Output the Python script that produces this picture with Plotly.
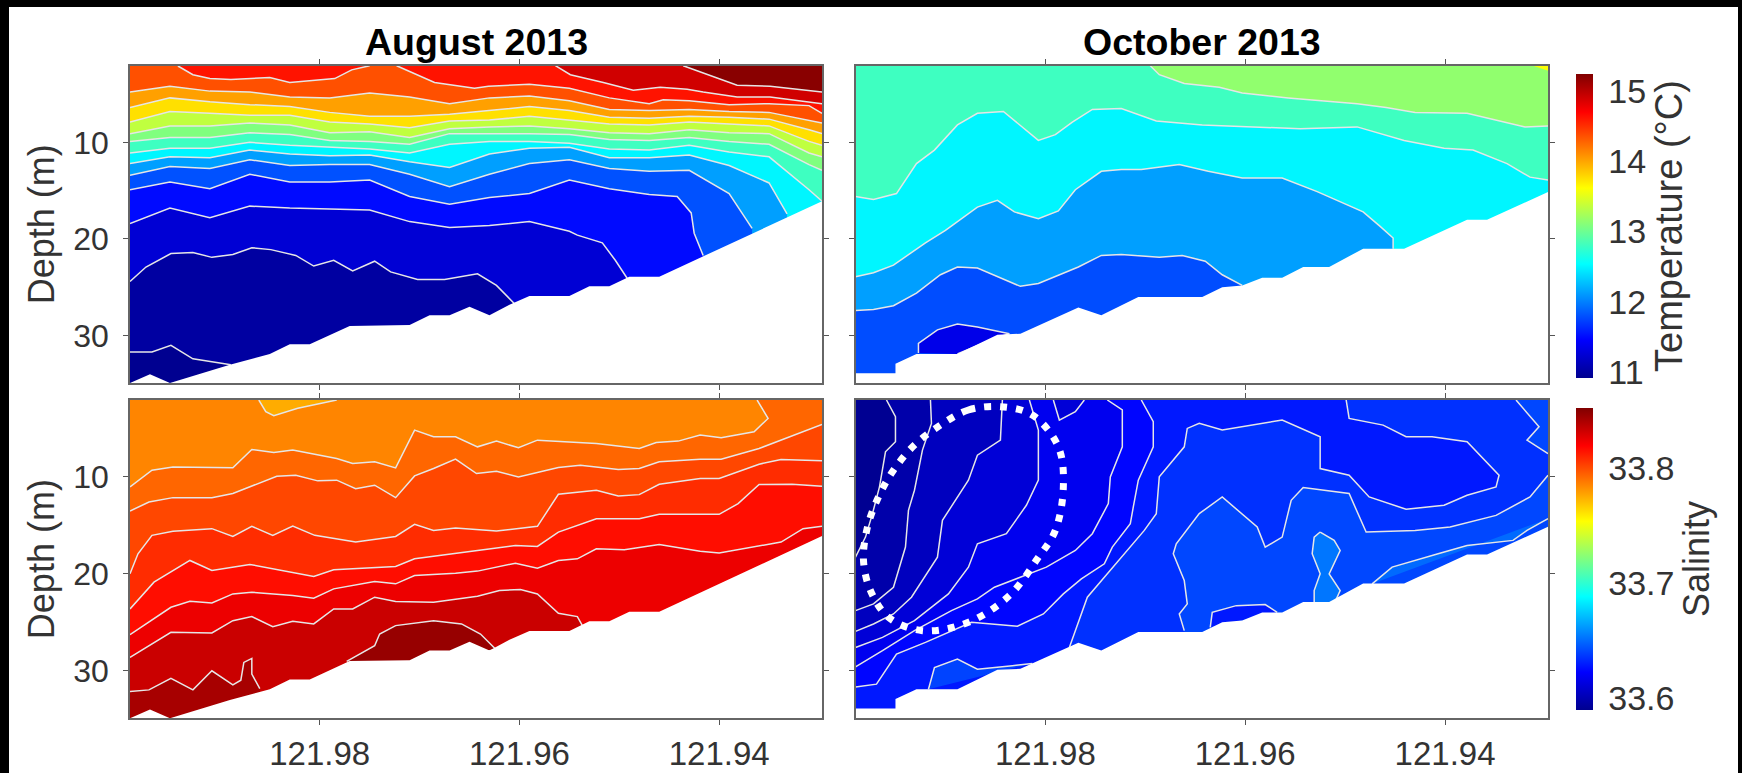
import plotly.graph_objects as go

# ---------- axes ----------
LEFT, RIGHT, TOP, BOTTOM, DEEP = 121.999, 121.9297, 2.07, 34.9, 37.0
LON_TICKS = [121.98, 121.96, 121.94]
LON_LABELS = ["121.98", "121.96", "121.94"]
DEPTH_TICKS = [10, 20, 30]
TEMP_RANGE = (10.915, 15.24)
SAL_RANGE = (33.59, 33.852)
TEMP_TICKS = [11, 12, 13, 14, 15]
SAL_TICKS = [33.6, 33.7, 33.8]
JET = [[0, "#00008F"], [0.125, "#0000FF"], [0.375, "#00FFFF"], [0.625, "#FFFF00"], [0.875, "#FF0000"], [1, "#800000"]]

# ---------- August temperature: isotherm depth (m) read at each longitude ----------
AUG_COLS = [121.999, 121.995, 121.991, 121.987, 121.983, 121.979, 121.975, 121.971, 121.967, 121.963,
            121.959, 121.955, 121.951, 121.947, 121.943, 121.939, 121.935, 121.931, 121.9297]
AT_L11 = [4.8, 4.2, 4.7, 4.8, 5.3, 5.4, 4.9, 5.3, 6.0, 5.4, 5.2, 5.7, 6.6, 6.7, 6.6, 6.8, 6.9, 7.7, 8.0]
AT_L10 = [6.4, 5.4, 5.8, 6.1, 6.3, 6.9, 7.3, 7.3, 7.1, 6.7, 6.3, 6.7, 7.4, 7.5, 7.3, 7.4, 7.6, 8.7, 9.1]
AT_L9 = [7.9, 6.8, 7.0, 7.2, 7.2, 7.9, 8.1, 8.5, 7.8, 7.7, 7.3, 7.7, 8.1, 8.2, 7.9, 8.1, 8.3, 9.9, 10.3]
AT_L8 = [9.1, 8.3, 8.3, 8.0, 8.2, 9.0, 8.9, 9.5, 8.6, 8.4, 8.3, 8.6, 9.0, 9.1, 8.7, 9.0, 9.1, 11.1, 11.5]
AT_L7 = [9.9, 9.5, 9.5, 9.0, 9.2, 9.8, 9.9, 10.2, 9.1, 9.1, 9.1, 9.2, 9.7, 9.8, 9.5, 9.9, 10.2, 12.3, 12.9]
AT_L6 = [11.1, 10.6, 10.6, 10.0, 10.3, 10.5, 10.7, 11.1, 10.2, 9.9, 9.9, 10.1, 10.7, 10.8, 10.3, 11.0, 11.5, 14.9, 16.1]
AT_L5 = [12.2, 11.5, 11.6, 10.8, 11.2, 11.4, 11.3, 12.0, 12.6, 11.2, 10.6, 10.5, 11.6, 11.6, 11.3, 12.4, 14.2]
AT_L5_END = [(121.9332, 17.4)]
AT_L4 = [13.4, 12.5, 12.7, 11.8, 12.4, 12.3, 12.3, 13.3, 14.6, 13.3, 12.2, 11.8, 12.7, 13.0, 12.9, 15.3]
AT_L4_END = [(121.9367, 18.9)]
AT_L3 = [14.9, 14.1, 14.8, 13.3, 14.1, 14.1, 13.9, 15.6, 16.4, 15.7, 15.3, 13.9, 14.8, 15.4]
AT_L3_END = [(121.9442, 15.6), (121.9428, 17.3), (121.9425, 19.4), (121.9416, 21.7)]
AT_L2 = [18.4, 16.8, 17.8, 16.6, 16.8, 16.9, 17.0, 18.2, 18.8, 18.6, 18.2]
AT_L2_END = [(121.955, 19.2), (121.9542, 19.6), (121.9517, 20.4), (121.9504, 22.2), (121.949, 24.4)]
AT_L1 = [(121.999, 24.4), (121.9974, 22.9), (121.9949, 21.5), (121.9927, 21.4), (121.9908, 21.9), (121.9887, 21.6),
         (121.9868, 20.9), (121.9849, 21.1), (121.9824, 21.7), (121.9806, 22.8), (121.9786, 22.2), (121.9767, 23.3),
         (121.9745, 22.3), (121.9729, 23.4), (121.9702, 24.2), (121.9675, 24.2), (121.9642, 23.6), (121.9623, 24.8),
         (121.9604, 26.8)]
AT_L0 = [(121.999, 31.7), (121.9968, 31.7), (121.9949, 31.0), (121.9927, 32.4), (121.9908, 32.7), (121.9889, 33.0)]
AT_L12A = [(121.9942, 2.1), (121.9927, 3.0), (121.991, 3.4), (121.9889, 3.5), (121.985, 3.3), (121.983, 3.8),
           (121.9785, 3.4), (121.9768, 2.5), (121.975, 2.07)]
AT_L12B = [(121.9723, 2.07), (121.9685, 3.8), (121.9645, 4.4), (121.9631, 4.2), (121.959, 4.0), (121.955, 4.4),
           (121.951, 5.4), (121.947, 6.0), (121.9456, 5.6), (121.943, 5.7), (121.939, 6.1), (121.935, 6.0),
           (121.931, 6.2), (121.9297, 7.0)]
AT_L13 = [(121.9564, 2.07), (121.9549, 3.0), (121.9516, 3.8), (121.9486, 4.6), (121.9459, 4.3), (121.9432, 4.5),
          (121.9416, 4.8), (121.9382, 5.3), (121.9349, 5.3), (121.9297, 6.0)]
AT_L14 = [(121.9436, 2.07), (121.9419, 2.7), (121.9409, 3.1), (121.9382, 4.1), (121.9349, 4.2), (121.9297, 4.8)]
AUG_T_BASE = 10.92
AUG_T_BANDS = [11.0, 11.25, 11.5, 11.8, 12.13, 12.5, 12.8, 13.08, 13.35, 13.75, 14.02, 14.36, 14.62, 14.9, 15.2]

# ---------- August seabed ----------
AUG_BED = [(121.999, 34.9), (121.997, 34.0), (121.995, 34.9), (121.989, 33.0), (121.985, 31.9), (121.983, 30.9),
           (121.981, 30.9), (121.977, 29.0), (121.971, 28.9), (121.969, 27.9), (121.967, 27.9), (121.965, 27.0),
           (121.963, 27.9), (121.961, 26.8), (121.959, 25.9), (121.955, 25.9), (121.953, 24.9), (121.951, 24.9),
           (121.949, 23.9), (121.946, 23.9), (121.9297, 16.1)]

# ---------- October temperature ----------
OT_1 = [(121.9695, 2.07), (121.9686, 3.0), (121.9661, 3.9), (121.9626, 4.3), (121.9603, 4.9), (121.9557, 5.4),
        (121.9488, 6.0), (121.9459, 6.4), (121.943, 6.9), (121.9378, 7.0), (121.932, 8.4), (121.9297, 8.3)]
OT_2 = [(121.999, 15.6), (121.9972, 15.9), (121.9949, 15.3), (121.9929, 12.2), (121.9911, 10.8), (121.9888, 8.2),
        (121.9868, 7.0), (121.9842, 6.8), (121.9807, 9.8), (121.979, 9.2), (121.9773, 7.9), (121.9753, 6.6),
        (121.9724, 6.5), (121.9689, 7.8), (121.9643, 8.2), (121.9545, 8.6), (121.9488, 8.4), (121.9441, 9.8),
        (121.9401, 10.6), (121.9372, 10.8), (121.9338, 12.2), (121.9315, 13.6), (121.9297, 13.9)]
OT_3 = [(121.999, 23.9), (121.9972, 23.5), (121.9952, 22.7), (121.992, 20.4), (121.99, 19.1), (121.9868, 16.7),
        (121.9848, 16.0), (121.9831, 17.2), (121.9807, 17.9), (121.9787, 17.1), (121.977, 14.9), (121.9744, 13.0),
        (121.9724, 12.8), (121.9704, 12.8), (121.9666, 12.3), (121.9637, 13.0), (121.9603, 13.7), (121.9563, 13.7),
        (121.9528, 15.1), (121.9482, 17.2), (121.9465, 18.7), (121.9452, 19.9), (121.9452, 21.0)]
OT_4 = [(121.999, 27.4), (121.9972, 27.3), (121.9952, 26.9), (121.9929, 25.6), (121.9905, 23.7), (121.9888, 22.9),
        (121.9868, 23.0), (121.9825, 24.9), (121.9807, 24.6), (121.9767, 22.9), (121.9744, 21.7), (121.9724, 21.6),
        (121.9686, 21.9), (121.9663, 21.7), (121.964, 22.3), (121.9623, 23.7), (121.9603, 24.8)]
OT_5 = [(121.9927, 31.8), (121.9927, 30.8), (121.9908, 29.4), (121.9888, 28.8), (121.9868, 29.1), (121.9836, 29.8),
        (121.9851, 30.3), (121.9888, 31.9)]
OT_6 = [(121.9312, 2.07), (121.9297, 2.6), (121.9297, 2.07)]
OCT_T_BASE = 11.78
OCT_T_BANDS = [12.13, 12.5, 12.8, 13.15]
OCT_T_COLD = 11.35
OCT_T_CORNER = 13.6

# ---------- October seabed ----------
OCT_BED = [(121.999, 33.9), (121.995, 33.9), (121.995, 32.9), (121.9929, 31.9), (121.9888, 31.9), (121.9848, 29.9),
           (121.9825, 29.8), (121.9767, 27.1), (121.9744, 27.9), (121.9707, 26.0), (121.9643, 26.0), (121.9623, 25.0),
           (121.9603, 24.8), (121.9583, 24.0), (121.9563, 24.0), (121.9542, 22.9), (121.9516, 22.9), (121.9482, 21.0),
           (121.9441, 21.0), (121.9378, 18.0), (121.9358, 18.0), (121.9296, 15.1)]

# ---------- August salinity ----------
AS_A = [(121.9861, 2.07), (121.9854, 3.28), (121.9846, 3.69), (121.9822, 2.93), (121.9783, 2.07)]
AS_B = [(121.999, 11.03), (121.9968, 9.31), (121.9947, 8.97), (121.9919, 9.03), (121.9887, 9.07), (121.9868, 7.17),
        (121.9846, 7.48), (121.9827, 7.24), (121.9783, 8.1), (121.9767, 8.62), (121.9745, 8.45), (121.9724, 9.07),
        (121.9705, 5.17), (121.9686, 5.86), (121.9664, 5.86), (121.9642, 6.9), (121.9623, 6.31), (121.9601, 7.0),
        (121.9582, 6.21), (121.9523, 6.55), (121.948, 7.07), (121.9463, 6.45), (121.9441, 6.31), (121.9419, 5.69),
        (121.9398, 5.97), (121.9365, 5.34), (121.9351, 3.97), (121.9362, 2.07)]
AS_C = [(121.999, 13.52), (121.9971, 12.59), (121.9947, 12.14), (121.9908, 12.14), (121.9887, 11.72), (121.9843, 9.93),
        (121.9824, 9.83), (121.9802, 10.41), (121.9783, 10.34), (121.9764, 11.21), (121.9745, 10.86), (121.9724, 12.14),
        (121.9705, 9.9), (121.9686, 9.14), (121.9664, 8.17), (121.9643, 9.66), (121.9623, 9.41), (121.9601, 10.0),
        (121.9561, 9.03), (121.9539, 8.79), (121.9501, 9.24), (121.948, 9.14), (121.946, 8.45), (121.9419, 8.17),
        (121.9398, 8.17), (121.936, 7.07), (121.9297, 4.59)]
AS_D = [(121.999, 20.0), (121.9982, 17.93), (121.9968, 16.03), (121.9947, 15.62), (121.9908, 15.34), (121.9887, 16.14),
        (121.9868, 15.1), (121.9847, 16.03), (121.9827, 15.07), (121.9805, 16.03), (121.9764, 16.72), (121.9724, 16.14),
        (121.9705, 14.9), (121.9686, 15.52), (121.9664, 15.28), (121.9623, 15.59), (121.9582, 15.1), (121.9561, 11.79),
        (121.9523, 11.38), (121.9501, 11.97), (121.948, 11.83), (121.946, 10.76), (121.9419, 10.17), (121.94, 10.17),
        (121.936, 8.69), (121.9338, 8.21), (121.9297, 8.34)]
AS_E = [(121.999, 23.62), (121.9966, 20.86), (121.993, 18.62), (121.9908, 19.66), (121.987, 19.03), (121.9827, 19.83),
        (121.9806, 20.28), (121.9786, 19.59), (121.9745, 19.31), (121.9724, 19.24), (121.9705, 18.45), (121.9664, 17.93),
        (121.9642, 17.59), (121.9604, 17.07), (121.9582, 17.17), (121.9561, 15.69), (121.9523, 14.31), (121.948, 14.31),
        (121.946, 13.86), (121.94, 13.86), (121.9381, 12.76), (121.936, 10.79), (121.9327, 10.76), (121.9297, 10.97)]
AS_F = [(121.999, 26.28), (121.9949, 23.45), (121.993, 22.83), (121.9908, 23.0), (121.9887, 22.07), (121.9868, 21.9),
        (121.9827, 22.24), (121.9806, 22.52), (121.9786, 21.55), (121.9745, 20.79), (121.9724, 21.03), (121.9705, 20.17),
        (121.9664, 19.93), (121.9642, 19.72), (121.9604, 18.9), (121.9582, 19.41), (121.9561, 18.62), (121.9542, 18.45),
        (121.9523, 17.41), (121.9495, 17.52), (121.946, 16.97), (121.9419, 17.66), (121.94, 17.86), (121.9338, 16.72),
        (121.9316, 15.34), (121.9297, 15.1)]
AS_G = [(121.999, 28.62), (121.9949, 26.03), (121.9908, 26.1), (121.9887, 24.83), (121.9868, 24.41), (121.9847, 25.45),
        (121.9827, 24.9), (121.9806, 25.17), (121.9786, 23.62), (121.9767, 23.62), (121.9745, 22.41), (121.9724, 22.86),
        (121.9686, 22.93), (121.9642, 22.31), (121.962, 21.72), (121.9599, 21.62), (121.9582, 22.07), (121.9561, 24.07),
        (121.9542, 24.41), (121.9535, 25.69)]
AS_H = [(121.999, 32.14), (121.9971, 31.97), (121.9949, 30.79), (121.9927, 31.97), (121.9908, 30.0), (121.9887, 31.45),
        (121.9879, 30.97), (121.9876, 29.14), (121.9868, 28.72), (121.9868, 30.34), (121.986, 31.83)]
AS_I = [(121.9773, 29.03), (121.9745, 27.41), (121.974, 26.21), (121.9724, 25.34), (121.9686, 24.83), (121.9658, 25.17),
        (121.9639, 26.21), (121.9623, 27.86), (121.9664, 28.28), (121.9702, 28.97)]
AUG_S_BASE = 33.842
AUG_S_BANDS = {"A": 33.775, "B": 33.785, "C": 33.793, "D": 33.801, "E": 33.808, "F": 33.816, "G": 33.824, "H": 33.833, "I": 33.846}

# ---------- October salinity ----------
OS_1 = [(121.9959, 2.07), (121.995, 3.79), (121.995, 6.38), (121.996, 7.41), (121.9966, 11.03), (121.9973, 13.79),
        (121.998, 16.21), (121.999, 18.28)]
OS_2 = [(121.9915, 2.07), (121.9914, 4.48), (121.9923, 7.24), (121.9931, 11.38), (121.9937, 13.45), (121.994, 17.24),
        (121.9952, 21.38), (121.9972, 23.1), (121.999, 23.79)]
OS_3 = [(121.9843, 2.07), (121.9845, 6.21), (121.9868, 7.76), (121.9877, 10.34), (121.9903, 14.48), (121.9905, 16.21),
        (121.9908, 18.28), (121.9934, 22.41), (121.9952, 24.14), (121.9972, 25.17), (121.999, 25.93)]
OS_4 = [(121.9816, 2.07), (121.9807, 5.17), (121.9807, 10.34), (121.9819, 12.93), (121.9839, 15.86), (121.9868, 16.9),
        (121.9877, 19.31), (121.9897, 22.07), (121.9931, 24.83), (121.9963, 26.55), (121.999, 27.59)]
OS_5 = [(121.9738, 2.07), (121.9723, 3.1), (121.9723, 6.9), (121.9735, 10.0), (121.9737, 12.76), (121.9753, 15.86),
        (121.977, 17.59), (121.9799, 19.31), (121.9851, 21.38), (121.9868, 22.59), (121.9894, 23.79), (121.9931, 25.86),
        (121.9963, 27.93), (121.999, 29.59)]
OS_5B = [(121.9792, 2.07), (121.9786, 4.14), (121.977, 3.28), (121.9761, 2.07)]
OS_6 = [(121.9704, 2.07), (121.9692, 4.31), (121.9692, 6.9), (121.9707, 10.34), (121.9712, 13.1), (121.9715, 14.83),
        (121.9733, 17.24), (121.9741, 18.97), (121.9764, 20.52), (121.9782, 22.07), (121.9802, 24.14), (121.9828, 25.41),
        (121.9874, 25.0), (121.992, 27.07), (121.9949, 28.28), (121.9969, 31.38), (121.999, 31.66)]
OS_7 = [(121.9499, 2.07), (121.9496, 3.97), (121.9462, 4.66), (121.9439, 5.86), (121.9413, 5.86), (121.9378, 6.38),
        (121.9346, 9.83), (121.9349, 11.03), (121.9378, 11.9), (121.9401, 12.93), (121.9439, 13.34), (121.9476, 12.07),
        (121.9496, 9.83), (121.9525, 9.14), (121.9525, 5.86), (121.9563, 4.14), (121.9623, 5.17), (121.9646, 4.48),
        (121.9658, 5.0), (121.9661, 6.9), (121.9686, 10.0), (121.9689, 13.79), (121.9701, 15.52), (121.9744, 20.69),
        (121.9758, 22.41), (121.977, 25.86), (121.9776, 27.59)]
OS_8 = [(121.9661, 25.86), (121.9666, 24.14), (121.9658, 23.1), (121.9661, 20.69), (121.9672, 17.93), (121.9669, 16.9),
        (121.9646, 13.79), (121.9623, 12.07), (121.9588, 15.17), (121.958, 17.24), (121.9563, 16.21), (121.9554, 12.41),
        (121.9542, 11.1), (121.9496, 11.72), (121.9479, 15.69), (121.943, 15.52), (121.9395, 15.17), (121.9349, 13.97),
        (121.9315, 12.07), (121.9297, 9.83)]
OS_8B = [(121.9329, 2.07), (121.9306, 4.83), (121.9318, 6.21), (121.9297, 7.59)]
OS_9 = [(121.9525, 15.69), (121.9511, 16.55), (121.9505, 17.59), (121.9516, 20.0), (121.9505, 21.72), (121.9511, 23.1),
        (121.9531, 23.1), (121.9531, 21.72), (121.9525, 20.0), (121.9533, 17.93), (121.9531, 16.21), (121.9525, 15.69)]
OS_10 = [(121.9473, 21.03), (121.9453, 19.31), (121.9407, 17.93), (121.9378, 17.07), (121.9332, 16.55), (121.9318, 15.52),
         (121.9297, 14.31)]
OS_11 = [(121.9635, 25.52), (121.9633, 23.97), (121.9609, 23.28), (121.958, 23.17), (121.9568, 23.97)]
OS_12 = [(121.9917, 31.9), (121.9911, 29.66), (121.9888, 28.79), (121.9868, 29.83), (121.9833, 29.48), (121.9813, 29.24)]
OCT_S_BASE = 33.641
OCT_S_BANDS = {"1": 33.591, "2": 33.598, "3": 33.604, "4": 33.611, "5": 33.618, "6": 33.624, "7": 33.629, "8": 33.635,
               "9": 33.653, "10": 33.650, "12": 33.640}
# dotted ring marked on the October salinity panel
RING = [(121.9845, 2.76), (121.9877, 3.1), (121.9905, 4.66), (121.9931, 6.72), (121.9952, 9.31), (121.9967, 12.07),
        (121.9978, 15.17), (121.9982, 18.62), (121.9975, 21.72), (121.9957, 24.48), (121.9923, 25.86), (121.9877, 25.0),
        (121.9836, 22.24), (121.9808, 18.45), (121.979, 15.52), (121.9782, 11.03), (121.9787, 6.9), (121.9813, 3.62),
        (121.9845, 2.76)]

LINE_COLOR = "#e6e6e6"
FONT = "Liberation Sans"
W, H = 1742, 773


def jet(value, rng):
    t = min(1.0, max(0.0, (value - rng[0]) / (rng[1] - rng[0])))
    for (a, ca), (b, cb) in zip(JET, JET[1:]):
        if t <= b:
            f = (t - a) / (b - a)
            rgb = [int(ca[i:i + 2], 16) + f * (int(cb[i:i + 2], 16) - int(ca[i:i + 2], 16)) for i in (1, 3, 5)]
            return "rgb(%d,%d,%d)" % tuple(round(c) for c in rgb)
    return JET[-1][1]


def on_cols(depths, end=()):
    return list(zip(AUG_COLS, depths)) + list(end)


def tail_above(pts):
    """Close the region shallower than a contour along the panel's top."""
    first, last = pts[0][0], pts[-1][0]
    tail = [] if last <= RIGHT + 1e-4 else [(last, DEEP), (RIGHT, DEEP)]
    return tail + [(RIGHT, TOP), (first, TOP)]


fig = go.Figure()


def add_region(ax, pts, value, rng, tail=None, outline=True):
    poly = list(pts) + (list(tail) if tail else [])
    xa, ya = ("x" + ax, "y" + ax)
    fig.add_trace(go.Scatter(x=[p[0] for p in poly], y=[p[1] for p in poly], mode="lines", fill="toself",
                             fillcolor=jet(value, rng), line=dict(width=0), hoverinfo="skip", showlegend=False,
                             xaxis=xa, yaxis=ya))
    if outline:
        fig.add_trace(go.Scatter(x=[p[0] for p in pts], y=[p[1] for p in pts], mode="lines",
                                 line=dict(color=LINE_COLOR, width=1.5), hoverinfo="skip", showlegend=False,
                                 xaxis=xa, yaxis=ya))


def add_base(ax, value, rng):
    add_region(ax, [(LEFT, TOP), (RIGHT, TOP), (RIGHT, DEEP), (LEFT, DEEP)], value, rng, outline=False)


def add_bed(ax, bed):
    poly = list(bed) + [(RIGHT, DEEP), (LEFT, DEEP)]
    fig.add_trace(go.Scatter(x=[p[0] for p in poly], y=[p[1] for p in poly], mode="lines", fill="toself",
                             fillcolor="white", line=dict(width=0), hoverinfo="skip", showlegend=False,
                             xaxis="x" + ax, yaxis="y" + ax))


# --- panel 1: August temperature
add_base("", AUG_T_BASE, TEMP_RANGE)
aug_t_lines = [AT_L0, AT_L1, on_cols(AT_L2, AT_L2_END), on_cols(AT_L3, AT_L3_END), on_cols(AT_L4, AT_L4_END),
               on_cols(AT_L5, AT_L5_END), on_cols(AT_L6), on_cols(AT_L7), on_cols(AT_L8), on_cols(AT_L9),
               on_cols(AT_L10), on_cols(AT_L11)]
for band, line in zip(AUG_T_BANDS, aug_t_lines):
    add_region("", line, band, TEMP_RANGE, tail_above(line))
add_region("", AT_L12A, AUG_T_BANDS[12], TEMP_RANGE)
add_region("", AT_L12B, AUG_T_BANDS[12], TEMP_RANGE, tail_above(AT_L12B))
add_region("", AT_L13, AUG_T_BANDS[13], TEMP_RANGE, tail_above(AT_L13))
add_region("", AT_L14, AUG_T_BANDS[14], TEMP_RANGE, tail_above(AT_L14))
add_bed("", AUG_BED)

# --- panel 2: October temperature
add_base("2", OCT_T_BASE, TEMP_RANGE)
add_region("2", OT_5, OCT_T_COLD, TEMP_RANGE)
for band, line in zip(OCT_T_BANDS, [OT_4, OT_3, OT_2, OT_1]):
    add_region("2", line, band, TEMP_RANGE, tail_above(line))
add_region("2", OT_6, OCT_T_CORNER, TEMP_RANGE, outline=False)
add_bed("2", OCT_BED)

# --- panel 3: August salinity
add_base("3", AUG_S_BASE, SAL_RANGE)
for key, line in zip("HGFEDC", [AS_H, AS_G, AS_F, AS_E, AS_D, AS_C]):
    add_region("3", line, AUG_S_BANDS[key], SAL_RANGE, tail_above(line))
add_region("3", AS_B, AUG_S_BANDS["B"], SAL_RANGE, [(LEFT, TOP)])
add_region("3", AS_A, AUG_S_BANDS["A"], SAL_RANGE)
add_region("3", AS_I, AUG_S_BANDS["I"], SAL_RANGE)
add_bed("3", AUG_BED)

# --- panel 4: October salinity
add_base("4", OCT_S_BASE, SAL_RANGE)
add_region("4", OS_9, OCT_S_BANDS["9"], SAL_RANGE)
add_region("4", OS_10, OCT_S_BANDS["10"], SAL_RANGE)
add_region("4", OS_8, OCT_S_BANDS["8"], SAL_RANGE, [(RIGHT, TOP), (LEFT, TOP), (LEFT, DEEP), (OS_8[0][0], DEEP)])
add_region("4", OS_8B, OCT_S_BASE, SAL_RANGE, [(RIGHT, TOP)])
add_region("4", OS_11, OCT_S_BANDS["7"], SAL_RANGE)
add_region("4", OS_7, OCT_S_BANDS["7"], SAL_RANGE, [(OS_7[-1][0], DEEP), (LEFT, DEEP), (LEFT, TOP)])
add_region("4", OS_12, OCT_S_BANDS["12"], SAL_RANGE)
for key, line in zip("654321", [OS_6, OS_5, OS_4, OS_3, OS_2, OS_1]):
    add_region("4", line, OCT_S_BANDS[key], SAL_RANGE, [(LEFT, TOP)])
    if key == "5":
        add_region("4", OS_5B, OCT_S_BANDS["4"], SAL_RANGE)
add_bed("4", OCT_BED)
fig.add_trace(go.Scatter(x=[p[0] for p in RING], y=[p[1] for p in RING], mode="lines",
                         line=dict(color="white", width=7, dash="7px,9px", shape="spline", smoothing=1),
                         hoverinfo="skip", showlegend=False, xaxis="x4", yaxis="y4"))


# --- colour bars
def colorbar_trace(ax, rng, ticks, fmt, title, title_size, top_px, bottom_px):
    fig.add_trace(go.Scatter(
        x=[LEFT], y=[TOP], mode="markers", hoverinfo="skip", showlegend=False, xaxis="x" + ax, yaxis="y" + ax,
        marker=dict(size=1, opacity=0, color=[rng[0]], cmin=rng[0], cmax=rng[1], colorscale=JET, showscale=True,
                    colorbar=dict(x=1576 / W, xanchor="left", y=1 - (top_px + bottom_px) / 2 / H, yanchor="middle",
                                  len=(bottom_px - top_px) / H, lenmode="fraction", thickness=17, xpad=0, ypad=0,
                                  outlinewidth=0, ticks="outside", ticklen=9, tickcolor="rgba(0,0,0,0)",
                                  tickvals=ticks, tickformat=fmt,
                                  tickfont=dict(family=FONT, size=34, color="#333333"),
                                  title=dict(text=title, side="right",
                                             font=dict(family=FONT, size=title_size, color="#333333"))))))


colorbar_trace("2", TEMP_RANGE, TEMP_TICKS, "d", "Temperature (°C)", 38, 74, 378)
colorbar_trace("4", SAL_RANGE, SAL_TICKS, ".1f", "Salinity", 36, 408, 710)

# --- axes
def x_axis(l, r, anchor, labels):
    return dict(domain=[l / W, r / W], range=[LEFT, RIGHT], anchor=anchor, tickvals=LON_TICKS, ticktext=LON_LABELS,
                showticklabels=labels, ticks="outside", ticklen=5, tickwidth=1.3, tickcolor="#555555",
                showline=True, linecolor="#666666", linewidth=1.5, mirror="ticks", showgrid=False, zeroline=False,
                tickfont=dict(family=FONT, size=33, color="#333333"), ticklabelstandoff=0)


def y_axis(t, b, anchor, labels):
    ax = dict(domain=[1 - b / H, 1 - t / H], range=[BOTTOM, TOP], anchor=anchor, tickvals=DEPTH_TICKS,
              showticklabels=labels, ticks="outside", ticklen=5, tickwidth=1.3, tickcolor="#555555",
              showline=True, linecolor="#666666", linewidth=1.5, mirror="ticks", showgrid=False, zeroline=False,
              tickfont=dict(family=FONT, size=32, color="#333333"), ticklabelstandoff=8)
    if labels:
        ax["title"] = dict(text="Depth (m)", font=dict(family=FONT, size=36, color="#333333"), standoff=8)
    return ax


fig.update_layout(
    width=W, height=H, margin=dict(l=0, r=0, t=0, b=0, autoexpand=False), paper_bgcolor="white", plot_bgcolor="white",
    showlegend=False,
    xaxis=x_axis(130, 822, "y", False), yaxis=y_axis(65.7, 383, "x", True),
    xaxis2=x_axis(855.5, 1548, "y2", False), yaxis2=y_axis(65.7, 383, "x2", False),
    xaxis3=x_axis(130, 822, "y3", True), yaxis3=y_axis(400, 718.3, "x3", True),
    xaxis4=x_axis(855.5, 1548, "y4", True), yaxis4=y_axis(400, 718.3, "x4", False),
    annotations=[
        dict(text="<b>August 2013</b>", xref="paper", yref="paper", x=476 / W, y=1 - 42 / H, showarrow=False,
             xanchor="center", yanchor="middle", font=dict(family=FONT, size=37.5, color="black")),
        dict(text="<b>October 2013</b>", xref="paper", yref="paper", x=1202 / W, y=1 - 42 / H, showarrow=False,
             xanchor="center", yanchor="middle", font=dict(family=FONT, size=37.5, color="black")),
    ],
    shapes=[
        dict(type="rect", xref="paper", yref="paper", x0=0, x1=1, y0=1 - 7 / H, y1=1, fillcolor="black", line_width=0),
        dict(type="rect", xref="paper", yref="paper", x0=0, x1=9 / W, y0=0, y1=1, fillcolor="black", line_width=0),
        dict(type="rect", xref="paper", yref="paper", x0=1738 / W, x1=1, y0=0, y1=1, fillcolor="black", line_width=0),
    ],
)

fig.write_html("out.html", config={"displayModeBar": False},
               post_script="document.body.style.margin='0';document.body.style.overflow='hidden';")
